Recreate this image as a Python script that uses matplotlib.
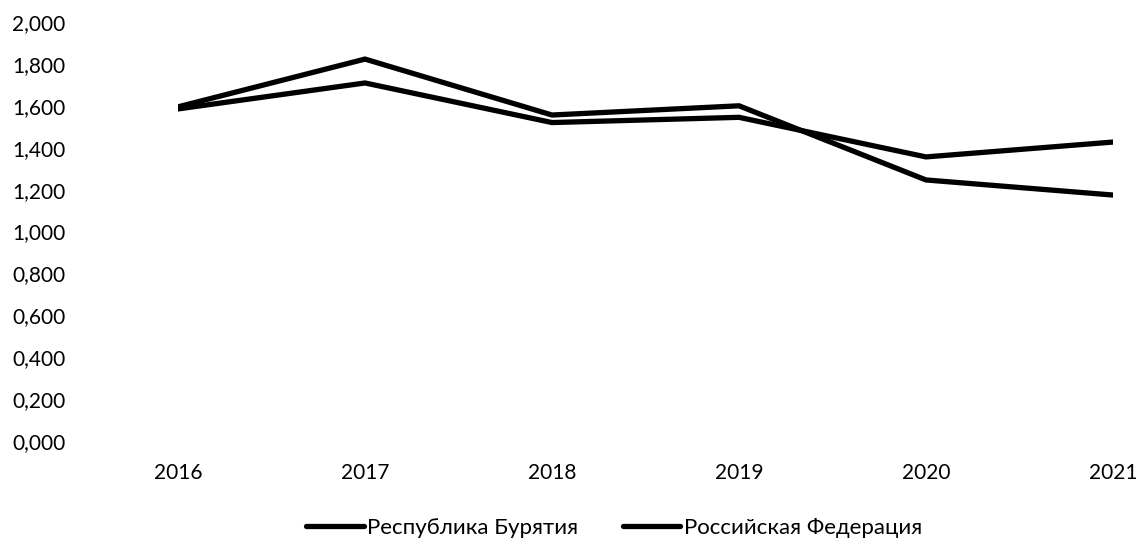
import matplotlib
matplotlib.use("Agg")
import matplotlib.pyplot as plt
from matplotlib.ticker import FuncFormatter, MultipleLocator

years = ["2016", "2017", "2018", "2019", "2020", "2021"]
buryatia = [1.595, 1.823, 1.556, 1.600, 1.246, 1.174]
russia = [1.585, 1.709, 1.520, 1.545, 1.356, 1.427]
series_names = ["Республика Бурятия", "Российская Федерация"]

plt.rcParams['font.family'] = ['Lato', 'DejaVu Sans']

fig = plt.figure(figsize=(11.36, 5.40), dpi=100)
ax = fig.add_axes([178/1136, 1-441/540, (1113-178)/1136, (441-22)/540])

x = list(range(len(years)))
for vals, name in zip([buryatia, russia], series_names):
    ax.plot(x, vals, color='black', linewidth=3.8, solid_capstyle='round',
            solid_joinstyle='miter', label=name)

ax.set_xlim(0, len(years) - 1)
ax.set_ylim(0, 2.0)
ax.yaxis.set_major_locator(MultipleLocator(0.2))
ax.yaxis.set_major_formatter(FuncFormatter(lambda v, p: f"{v:.3f}".replace('.', ',')))
ax.set_xticks(x)
ax.set_xticklabels(years)
for s in ax.spines.values():
    s.set_visible(False)
ax.tick_params(axis='both', length=0, colors='black')
ax.tick_params(axis='y', pad=119.5, labelsize=15)
ax.tick_params(axis='x', pad=15.5, labelsize=15)
for lbl in ax.get_yticklabels():
    lbl.set_horizontalalignment('left')

fig.legend(loc='center', bbox_to_anchor=(614/1136, 1-528/540), ncol=2, frameon=False,
           fontsize=16, handlelength=2.6, handletextpad=0.15, columnspacing=2.0,
           borderpad=0, borderaxespad=0)

fig.savefig("out.png", dpi=100)
